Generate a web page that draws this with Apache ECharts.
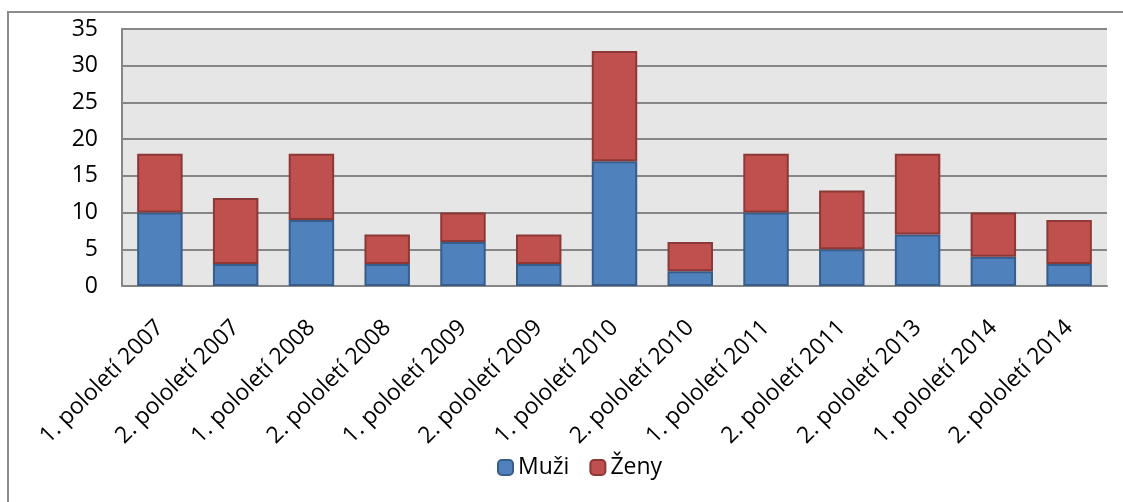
<!DOCTYPE html>
<html>
<head>
<meta charset="utf-8">
<script src="https://cdn.jsdelivr.net/npm/echarts@6/dist/echarts.min.js"></script>
<style>
  html, body { margin: 0; padding: 0; background: #fff; }
  #chart { width: 1123px; height: 502px; }
</style>
</head>
<body>
<div id="chart"></div>
<script>
var categories = ['1. pololetí 2007', '2. pololetí 2007', '1. pololetí 2008', '2. pololetí 2008',
  '1. pololetí 2009', '2. pololetí 2009', '1. pololetí 2010', '2. pololetí 2010',
  '1. pololetí 2011', '2. pololetí 2011', '2. pololetí 2013', '1. pololetí 2014', '2. pololetí 2014'];
var muzi = [10, 3, 9, 3, 6, 3, 17, 2, 10, 5, 7, 4, 3];
var zeny = [8, 9, 9, 4, 4, 4, 15, 4, 8, 8, 11, 6, 6];

var myChart = echarts.init(document.getElementById('chart'));
var fontFam = '"Open Sans", sans-serif';
var option = {
  animation: false,
  textStyle: { fontFamily: fontFam },
  graphic: [{
    type: 'rect',
    shape: { x: 8, y: 12, width: 1130, height: 500 },
    style: { fill: 'none', stroke: '#8c8c8c', lineWidth: 2 },
    z: -1
  }],
  grid: {
    left: 122,
    right: 16,
    top: 29,
    bottom: 216,
    show: true,
    backgroundColor: '#e6e6e6',
    borderWidth: 0
  },
  legend: {
    bottom: 18,
    left: 492,
    itemWidth: 15,
    itemHeight: 15,
    itemGap: 20,
    textStyle: { fontSize: 23, color: '#000', fontFamily: fontFam },
    data: ['Muži', 'Ženy']
  },
  xAxis: {
    type: 'category',
    data: categories,
    axisLine: { lineStyle: { color: '#868686', width: 2 } },
    axisTick: { show: false },
    axisLabel: {
      interval: 0,
      rotate: 45,
      fontSize: 23,
      color: '#000',
      margin: 38,
      fontFamily: fontFam
    }
  },
  yAxis: {
    type: 'value',
    min: 0,
    max: 35,
    interval: 5,
    axisLine: { show: true, lineStyle: { color: '#868686', width: 2 } },
    axisTick: { show: false },
    splitLine: { lineStyle: { color: '#868686', width: 2 } },
    axisLabel: { fontSize: 23, color: '#000', margin: 24, fontFamily: fontFam }
  },
  series: [
    {
      name: 'Muži',
      type: 'bar',
      stack: 'total',
      barWidth: '60%',
      data: muzi,
      itemStyle: { color: '#4f81bd', borderColor: '#385d8a', borderWidth: 2 }
    },
    {
      name: 'Ženy',
      type: 'bar',
      stack: 'total',
      data: zeny,
      itemStyle: { color: '#c0504d', borderColor: '#8c3836', borderWidth: 2 }
    }
  ]
};
myChart.setOption(option);
</script>
</body>
</html>
